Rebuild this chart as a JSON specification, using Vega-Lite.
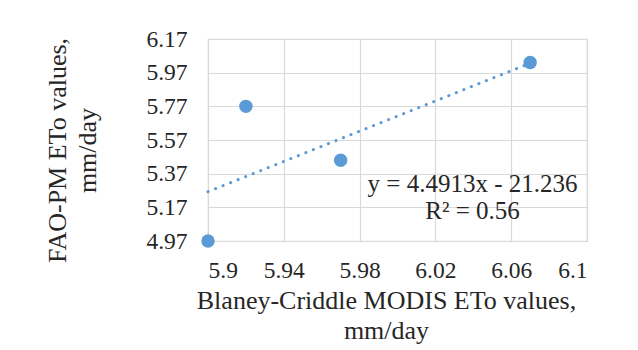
{
  "$schema": "https://vega.github.io/schema/vega-lite/v6.json",
  "width": 379,
  "height": 202,
  "autosize": {"type": "none"},
  "padding": {"left": 208, "top": 39, "right": 51, "bottom": 109},
  "background": "white",
  "config": {
    "font": "Liberation Serif",
    "view": {"stroke": "#d9d9d9", "strokeWidth": 1.2}
  },
  "data": {
    "values": [
      {"bc": 5.90, "fao": 4.97},
      {"bc": 5.92, "fao": 5.77},
      {"bc": 5.97, "fao": 5.45},
      {"bc": 6.07, "fao": 6.03}
    ]
  },
  "encoding": {
    "x": {
      "field": "bc", "type": "quantitative",
      "scale": {"domain": [5.9, 6.1], "nice": false, "zero": false},
      "axis": {
        "values": [5.9, 5.94, 5.98, 6.02, 6.06, 6.1],
        "format": ".3~g",
        "grid": true, "gridColor": "#d9d9d9", "gridWidth": 1.2,
        "domain": false, "ticks": false,
        "labelFont": "Liberation Serif", "labelFontSize": 23.5, "labelColor": "#262626",
        "labelBaseline": "alphabetic",
        "labelPadding": 36,
        "labelOverlap": false,
        "title": ["Blaney-Criddle MODIS ETo values,", "mm/day"],
        "titleFont": "Liberation Serif", "titleFontSize": 26, "titleFontWeight": "normal", "titleColor": "#262626",
        "titleBaseline": "alphabetic",
        "titleLineHeight": 30,
        "titleX": 178,
        "titleY": 67
      }
    },
    "y": {
      "field": "fao", "type": "quantitative",
      "scale": {"domain": [4.97, 6.17], "nice": false, "zero": false},
      "axis": {
        "values": [4.97, 5.17, 5.37, 5.57, 5.77, 5.97, 6.17],
        "format": ".2f",
        "grid": true, "gridColor": "#d9d9d9", "gridWidth": 1.2,
        "domain": false, "ticks": false,
        "labelFont": "Liberation Serif", "labelFontSize": 23.5, "labelColor": "#262626",
        "labelPadding": 21,
        "labelOverlap": false,
        "title": ["FAO-PM ETo values,", "mm/day"],
        "titleFont": "Liberation Serif", "titleFontSize": 26, "titleFontWeight": "normal", "titleColor": "#262626",
        "titleBaseline": "alphabetic",
        "titleLineHeight": 30,
        "titleX": -143,
        "titleY": 111
      }
    }
  },
  "layer": [
    {
      "transform": [{"regression": "fao", "on": "bc"}],
      "mark": {"type": "line", "color": "#5b9bd5", "strokeWidth": 3, "strokeDash": [0.1, 8], "strokeCap": "round"}
    },
    {
      "mark": {"type": "point", "filled": true, "opacity": 1, "size": 180, "color": "#5b9bd5"}
    },
    {
      "transform": [{"filter": "datum.bc === 5.9"}],
      "mark": {"type": "text", "fontSize": 25, "font": "Liberation Serif", "fontWeight": "normal", "color": "#262626", "align": "center", "baseline": "alphabetic", "lineHeight": 27},
      "encoding": {
        "x": {"datum": 6.0396, "type": "quantitative"},
        "y": {"datum": 5.261, "type": "quantitative"},
        "text": {"value": ["y = 4.4913x - 21.236", "R² = 0.56"]}
      }
    }
  ]
}
